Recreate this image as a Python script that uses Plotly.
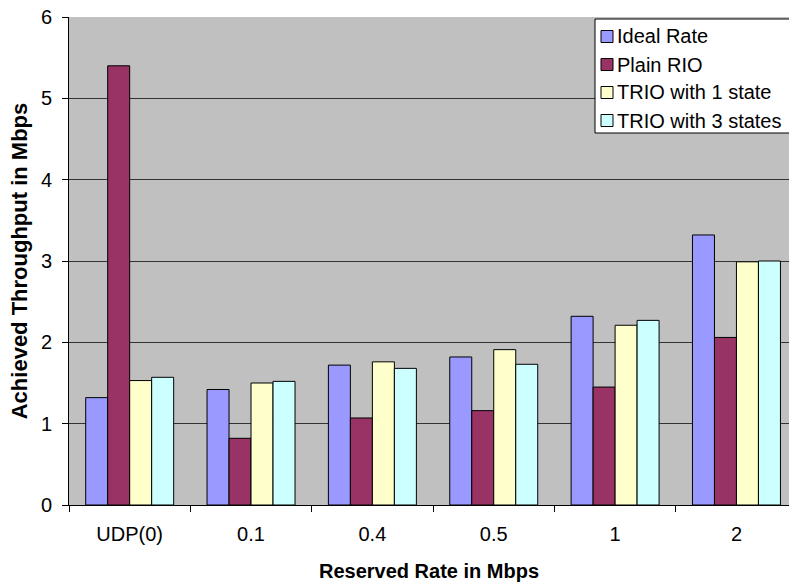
import plotly.graph_objects as go

# Reserved rate categories and achieved throughput (Mbps) per scheme
categories = ["UDP(0)", "0.1", "0.4", "0.5", "1", "2"]
ideal_rate = [1.32, 1.42, 1.72, 1.82, 2.32, 3.32]
plain_rio = [5.40, 0.82, 1.07, 1.16, 1.45, 2.06]
trio_1_state = [1.53, 1.50, 1.76, 1.91, 2.21, 2.99]
trio_3_states = [1.57, 1.52, 1.68, 1.73, 2.27, 3.00]

series_names = ["Ideal Rate", "Plain RIO", "TRIO with 1 state", "TRIO with 3 states"]
series_values = [ideal_rate, plain_rio, trio_1_state, trio_3_states]
series_colors = ["#9999FF", "#993366", "#FFFFCC", "#CCFFFF"]

FONT = "Liberation Sans, Arial, sans-serif"
W, H = 789, 584
ML, MR, MT, MB = 69, 0, 17, 79


def px_x(px):
    """Pixel column -> paper x fraction of the plot area."""
    return (px - ML) / (W - ML - MR)


def px_y(py):
    """Pixel row (from top) -> paper y fraction of the plot area."""
    return (H - MB - py) / (H - MT - MB)


fig = go.Figure()
for name, values, color in zip(series_names, series_values, series_colors):
    fig.add_trace(go.Bar(
        x=categories,
        y=values,
        name=name,
        showlegend=False,
        marker=dict(color=color, line=dict(color="#000000", width=1)),
    ))

# Boxed legend in the upper-right corner, one row per series
shapes = [dict(
    type="rect", xref="paper", yref="paper",
    x0=px_x(595), x1=px_x(805), y0=px_y(133), y1=px_y(19),
    fillcolor="#FFFFFF", line=dict(color="#000000", width=1), layer="above",
)]
annotations = []
row_top, row_step = 36.5, 28
for i, (name, color) in enumerate(zip(series_names, series_colors)):
    cy = row_top + i * row_step
    shapes.append(dict(
        type="rect", xref="paper", yref="paper",
        x0=px_x(601), x1=px_x(613), y0=px_y(cy + 6), y1=px_y(cy - 6),
        fillcolor=color, line=dict(color="#000000", width=1), layer="above",
    ))
    annotations.append(dict(
        xref="paper", yref="paper", x=px_x(615), y=px_y(cy),
        xanchor="left", yanchor="middle", showarrow=False,
        text=name, font=dict(family=FONT, size=20, color="#000000"),
    ))

fig.update_layout(
    width=W,
    height=H,
    margin=dict(l=ML, r=MR, t=MT, b=MB),
    paper_bgcolor="#FFFFFF",
    plot_bgcolor="#C0C0C0",
    barmode="group",
    bargap=0.275,
    bargroupgap=0,
    showlegend=False,
    font=dict(family=FONT, size=20, color="#000000"),
    shapes=shapes,
    annotations=annotations,
    xaxis=dict(
        type="category",
        range=[-0.5, 5.433],
        tickson="boundaries",
        ticks="outside", ticklen=6, tickcolor="#000000",
        showline=True, linecolor="#000000", linewidth=1,
        showgrid=False,
        tickfont=dict(family=FONT, size=20),
        ticklabelstandoff=11,
        title=dict(text="<b>Reserved Rate in Mbps</b>",
                   font=dict(family=FONT, size=20), standoff=19),
    ),
    yaxis=dict(
        range=[0, 6],
        dtick=1,
        ticks="outside", ticklen=6, tickcolor="#000000",
        showline=True, linecolor="#000000", linewidth=1,
        showgrid=True, gridcolor="#333333", gridwidth=1,
        zeroline=False,
        tickfont=dict(family=FONT, size=20),
        ticklabelstandoff=6,
        title=dict(text="<b>Achieved Throughput in Mbps</b>",
                   font=dict(family=FONT, size=22), standoff=7),
    ),
)

fig.write_html("out.html")
